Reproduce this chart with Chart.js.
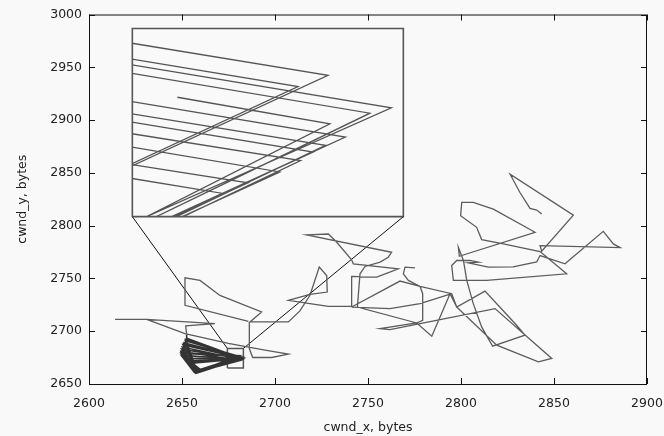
<!DOCTYPE html>
<html>
<head>
<meta charset="utf-8">
<script src="https://cdn.jsdelivr.net/npm/chart.js@4.4.0/dist/chart.umd.min.js"></script>
<style>
  html, body { margin: 0; padding: 0; background: #f9f9f9; }
  #wrap { position: relative; width: 664px; height: 436px; }
  #main { position: absolute; left: 0; top: 0; }
  #inset { position: absolute; }
</style>
</head>
<body>
<div id="wrap">
  <canvas id="main" width="664" height="436"></canvas>
  <canvas id="inset"></canvas>
</div>
<script>
// axis ranges
var xRange = [2600, 2900];
var yRange = [2650, 3000];
var tickStep = 50;

// cwnd trajectory, pieces split by null
var trajX = [
  2614.0, 2631.0, 2667.7, 2652.0, 2652.5, null,
  2631.0, 2651.6, 2674.9, 2694.6, 2707.2, 2698.2, 2688.0, 2686.2, 2686.2, null,
  2685.7, 2651.6, 2651.6, 2659.7, 2670.4, 2692.8, 2686.6, 2707.2, 2713.4, 2718.8, 2723.8, 2727.8, 2728.1, 2718.8,
  2707.2, 2718.8, 2728.7, 2741.2, 2741.2, 2754.7, 2766.3, 2742.1, 2741.2, 2733.2, 2728.7, 2717.0, 2762.7, 2760.9,
  2756.5, 2748.4, 2745.7, 2744.3, 2776.2, 2784.3, 2794.1, 2797.7, 2812.9, 2829.9, 2834.4, 2817.0, 2811.1, 2806.6,
  2803.1, 2801.3, 2798.6, 2799.1, 2839.8, 2817.4, 2806.6, 2800.4, 2799.8, 2808.4, 2811.1, 2822.8, 2842.5, 2856.8,
  2813.8, 2795.9, 2795.0, 2797.7, 2804.8, 2809.3, 2803.9, 2814.7, 2828.0, 2840.7, 2842.5, 2855.9, 2876.5, 2881.9,
  2885.5, 2842.5, 2843.4, 2860.4, 2826.4, 2831.7, 2837.1, 2840.7, 2843.4, null,
  2797.7, 2819.2, 2841.6, 2848.8, 2818.3, 2778.0, 2761.8, 2756.5, 2776.2, 2779.4, 2779.4, 2778.0, 2771.7, 2769.0,
  2769.9, 2775.3, null,
  2741.2, 2767.2, 2778.0, 2795.0, 2797.7, null,
  2741.2, 2761.8, 2778.0, 2795.0
];
var trajY = [
  2711.3, 2711.3, 2707.2, 2705.0, 2697.0, null,
  2711.3, 2697.8, 2688.4, 2682.1, 2678.3, 2675.1, 2675.1, 2683.6, 2708.8, null,
  2709.4, 2724.5, 2750.6, 2748.1, 2733.9, 2718.2, 2708.8, 2708.8, 2719.2, 2734.0, 2760.7, 2752.8, 2737.1, 2734.9,
  2729.2, 2726.1, 2723.6, 2723.6, 2751.9, 2751.2, 2759.1, 2763.8, 2767.6, 2784.3, 2792.1, 2791.2, 2774.8, 2770.1,
  2765.4, 2761.3, 2754.4, 2722.9, 2707.8, 2695.3, 2735.5, 2722.9, 2738.0, 2705.6, 2696.2, 2685.8, 2704.1, 2726.1,
  2748.1, 2767.0, 2779.5, 2771.0, 2793.7, 2815.7, 2822.0, 2822.0, 2809.4, 2798.4, 2786.8, 2782.7, 2775.5, 2754.4,
  2748.1, 2748.1, 2762.2, 2767.0, 2767.0, 2765.4, 2764.8, 2760.7, 2761.0, 2765.6, 2771.7, 2763.8, 2794.6, 2782.7,
  2779.2, 2781.1, 2775.8, 2810.0, 2848.7, 2831.4, 2816.3, 2814.8, 2811.0, null,
  2722.9, 2686.8, 2671.0, 2674.2, 2721.4, 2707.2, 2701.6, 2702.5, 2707.8, 2710.4, 2735.5, 2742.4, 2748.1, 2754.4,
  2760.7, 2760.0, null,
  2722.9, 2747.5, 2742.4, 2735.5, 2722.9, null,
  2722.9, 2721.4, 2726.1, 2735.5
];

// repeated loops near (2665, 2675) that overlap into a dark patch
var clumpX = [
  2652.5, 2652.5, 2682.1, 2658.1, 2651.8, 2681.0, 2657.2, 2651.2, 2682.6, 2658.6, 2650.6, 2680.2, 2656.8,
  2650.2, 2681.6, 2658.0, 2649.8, 2679.4, 2657.4, 2649.6, 2681.2, 2658.8, 2649.5, 2680.6, 2656.6,
  2649.6, 2682.0, 2657.8, 2651.0, 2679.8, 2659.6, 2652.6, 2681.4, 2660.2, 2653.5, 2678.5, 2658.2,
  2652.0, 2680.8, 2657.6, 2650.9, 2682.3, 2659.8, 2654.8, 2679.0, 2657.0, 2649.7, 2681.8, 2658.0,
  2651.2, 2652.2
];
var clumpY = [
  2697.0, 2693.4, 2674.2, 2660.4, 2691.0, 2676.0, 2661.2, 2689.0, 2674.8, 2660.8, 2687.0, 2675.4, 2662.0,
  2685.0, 2673.2, 2661.6, 2683.0, 2674.6, 2660.2, 2681.0, 2672.4, 2661.8, 2679.0, 2676.8, 2661.0,
  2677.0, 2673.6, 2662.4, 2674.5, 2673.0, 2663.4, 2671.5, 2674.0, 2662.6, 2669.5, 2673.3, 2661.0,
  2692.2, 2675.0, 2660.6, 2688.0, 2673.8, 2663.8, 2670.6, 2674.2, 2660.9, 2680.0, 2675.6, 2661.4,
  2686.0, 2692.0
];

// zoom window and where the magnified view sits
var zoomX = [2674.4, 2683.0];
var zoomY = [2665.1, 2683.7];
var insetBoxX = [2623.3, 2769.0];
var insetBoxY = [2808.5, 2986.8];

// trace inside the zoom window
var insetX = [
  2674.40, 2680.62, 2674.40, null,
  2674.40, 2679.67, 2674.40, null,
  2674.40, 2682.63, 2674.86, null,
  2674.40, 2681.95, 2675.17, null,
  2674.40, 2681.17, 2675.65, null,
  2674.40, 2680.54, 2675.81, null,
  2674.40, 2679.75, 2676.02, null,
  2674.40, 2680.15, 2675.66, null,
  2674.40, 2679.09, 2675.99, null,
  2674.40, 2678.08, 2675.73, null,
  2674.40, 2677.29, 2675.68, null,
  2675.84, 2680.68, 2674.86
];
var insetY = [
  2682.19, 2679.01, 2670.05, null,
  2680.62, 2677.90, 2670.28, null,
  2680.06, 2675.80, 2665.03, null,
  2679.21, 2675.27, 2665.03, null,
  2676.42, 2672.91, 2665.03, null,
  2675.21, 2672.09, 2665.03, null,
  2673.24, 2670.58, 2665.03, null,
  2674.39, 2671.43, 2665.03, null,
  2671.92, 2669.46, 2665.03, null,
  2670.19, 2668.38, 2665.03, null,
  2668.81, 2667.33, 2665.03, null,
  2676.85, 2674.22, 2665.03
];

function pts(xs, ys) {
  return xs.map(function (x, i) { return { x: x, y: ys[i] }; });
}
function rect(bx, by) {
  return pts([bx[0], bx[1], bx[1], bx[0], bx[0]], [by[0], by[0], by[1], by[1], by[0]]);
}

var font = { family: 'DejaVu Sans', size: 12.5 };
var textColor = '#222';

var frameTicks = {
  id: 'frameTicks',
  afterDraw: function (chart) {
    var ctx = chart.ctx, a = chart.chartArea;
    var xs = chart.scales.x, ys = chart.scales.y;
    ctx.save();
    ctx.strokeStyle = '#111';
    ctx.lineWidth = 1;
    ctx.beginPath();
    xs.ticks.forEach(function (t) {
      var p = Math.round(xs.getPixelForValue(t.value)) + 0.5;
      ctx.moveTo(p, a.bottom); ctx.lineTo(p, a.bottom - 6);
      ctx.moveTo(p, a.top); ctx.lineTo(p, a.top + 6);
    });
    ys.ticks.forEach(function (t) {
      var p = Math.round(ys.getPixelForValue(t.value)) + 0.5;
      ctx.moveTo(a.left, p); ctx.lineTo(a.left + 6, p);
      ctx.moveTo(a.right, p); ctx.lineTo(a.right - 6, p);
    });
    ctx.stroke();
    ctx.strokeRect(a.left + 0.5, a.top + 0.5, a.right - a.left - 1, a.bottom - a.top);
    ctx.restore();
  }
};

var mainChart = new Chart(document.getElementById('main'), {
  type: 'line',
  data: {
    datasets: [
      { data: pts(trajX, trajY), borderColor: '#5c5c5c', borderWidth: 1.3 },
      { data: pts(clumpX, clumpY), borderColor: '#333', borderWidth: 1.6 },
      { data: rect(zoomX, zoomY), borderColor: '#555', borderWidth: 1.5 },
      { data: pts([insetBoxX[0], zoomX[0], null, insetBoxX[1], zoomX[1]],
                  [insetBoxY[0], zoomY[1], null, insetBoxY[0], zoomY[1]]),
        borderColor: '#111', borderWidth: 1 },
      { data: rect(insetBoxX, insetBoxY), borderColor: '#555', borderWidth: 1.6 }
    ]
  },
  options: {
    responsive: false,
    animation: false,
    events: [],
    elements: { point: { radius: 0 }, line: { tension: 0, fill: false } },
    plugins: { legend: { display: false }, tooltip: { enabled: false } },
    layout: { padding: { left: 0, top: 13, right: 17, bottom: 0 } },
    scales: {
      x: {
        type: 'linear', min: xRange[0], max: xRange[1],
        grid: { display: false, drawTicks: false },
        border: { display: false },
        ticks: { stepSize: tickStep, padding: 12, color: textColor, font: font, maxRotation: 0,
                 callback: function (v) { return String(v); } },
        title: { display: true, text: 'cwnd_x, bytes', color: textColor, font: font,
                 padding: { top: 0, bottom: 1 } },
        afterFit: function (s) { s.height = 52; s.paddingLeft = 0; s.paddingRight = 0; }
      },
      y: {
        type: 'linear', min: yRange[0], max: yRange[1],
        grid: { display: false, drawTicks: false },
        border: { display: false },
        ticks: { stepSize: tickStep, padding: 7, color: textColor, font: font,
                 callback: function (v) { return String(v); } },
        title: { display: true, text: 'cwnd_y, bytes', color: textColor, font: font,
                 padding: { top: 15, bottom: 0 } },
        afterFit: function (s) { s.width = 89; }
      }
    }
  },
  plugins: [frameTicks]
});

// magnified view placed over the inset frame
var sx = mainChart.scales.x, sy = mainChart.scales.y;
var l = sx.getPixelForValue(insetBoxX[0]), r = sx.getPixelForValue(insetBoxX[1]);
var t = sy.getPixelForValue(insetBoxY[1]), b = sy.getPixelForValue(insetBoxY[0]);
var ic = document.getElementById('inset');
ic.width = Math.round(r - l);
ic.height = Math.round(b - t);
ic.style.left = Math.round(l) + 'px';
ic.style.top = Math.round(t) + 'px';

new Chart(ic, {
  type: 'line',
  data: { datasets: [{ data: pts(insetX, insetY), borderColor: '#555', borderWidth: 1.3 }] },
  options: {
    responsive: false,
    animation: false,
    events: [],
    elements: { point: { radius: 0 }, line: { tension: 0, fill: false } },
    plugins: { legend: { display: false }, tooltip: { enabled: false } },
    layout: { padding: 0 },
    scales: {
      x: { type: 'linear', display: false, min: zoomX[0], max: zoomX[1] },
      y: { type: 'linear', display: false, min: zoomY[0], max: zoomY[1] }
    }
  }
});
</script>
</body>
</html>
